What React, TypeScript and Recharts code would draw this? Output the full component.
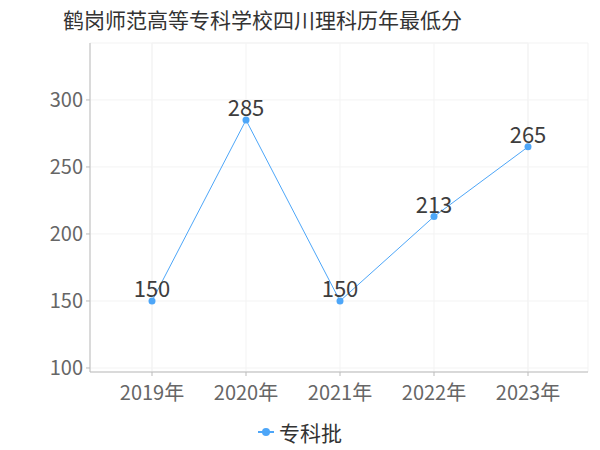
import { CartesianGrid, LabelList, Line, LineChart, ReferenceArea, XAxis, YAxis } from "recharts";

const years = ["2019年", "2020年", "2021年", "2022年", "2023年"];
const zhuanke = [150, 285, 150, 213, 265];
const yTicks = [100, 150, 200, 250, 300];

const LINE_COLOR = "#4da6f8";
const FONT = '"Noto Sans CJK SC", "Noto Sans", sans-serif';

const data = years.map((year, i) => ({ year, zhuanke: zhuanke[i] }));

export default function App() {
  return (
    <div
      style={{
        position: "fixed",
        left: 0,
        top: 0,
        width: 600,
        height: 450,
        background: "#fff",
        fontFamily: FONT,
      }}
    >
      <div
        style={{
          position: "absolute",
          left: 63,
          top: 7,
          fontSize: 21,
          lineHeight: "24px",
          color: "#333",
          whiteSpace: "nowrap",
        }}
      >
        鹤岗师范高等专科学校四川理科历年最低分
      </div>
      <LineChart
        width={600}
        height={450}
        data={data}
        margin={{ top: 43, right: 12, bottom: 48, left: 0 }}
        style={{ position: "absolute", left: 0, top: 0 }}
      >
        <CartesianGrid stroke="#f3f3f3" />
        <ReferenceArea y1={97} y2={342.5} fill="none" stroke="#f3f3f3" ifOverflow="visible" />
        <XAxis
          dataKey="year"
          padding={{ left: 62, right: 60 }}
          height={30}
          stroke="#bbb"
          tickSize={4}
          tickMargin={10}
          tick={{ fontSize: 20, fill: "#666", fontFamily: FONT }}
        />
        <YAxis
          domain={[97, 342.5]}
          ticks={yTicks}
          width={90}
          stroke="#bbb"
          tickSize={4}
          tickMargin={3}
          tick={{ fontSize: 20, fill: "#666", fontFamily: FONT }}
        />
        <Line
          dataKey="zhuanke"
          name="专科批"
          stroke={LINE_COLOR}
          strokeWidth={1}
          dot={{ r: 3.5, fill: LINE_COLOR, stroke: LINE_COLOR, strokeWidth: 0 }}
          activeDot={false}
          isAnimationActive={false}
        >
          <LabelList
            dataKey="zhuanke"
            position="top"
            offset={4}
            style={{ fontSize: 22, fill: "#3d3d3d", fontFamily: FONT }}
          />
        </Line>
      </LineChart>
      <div
        style={{
          position: "absolute",
          left: 0,
          top: 418,
          width: 600,
          display: "flex",
          justifyContent: "center",
          alignItems: "center",
          gap: 5,
          fontSize: 21,
          lineHeight: "28px",
          color: "#333",
        }}
      >
        <svg width={16} height={10}>
          <line x1={0} y1={5} x2={16} y2={5} stroke={LINE_COLOR} strokeWidth={2} />
          <circle cx={8} cy={5} r={4} fill={LINE_COLOR} />
        </svg>
        <span>专科批</span>
      </div>
    </div>
  );
}
